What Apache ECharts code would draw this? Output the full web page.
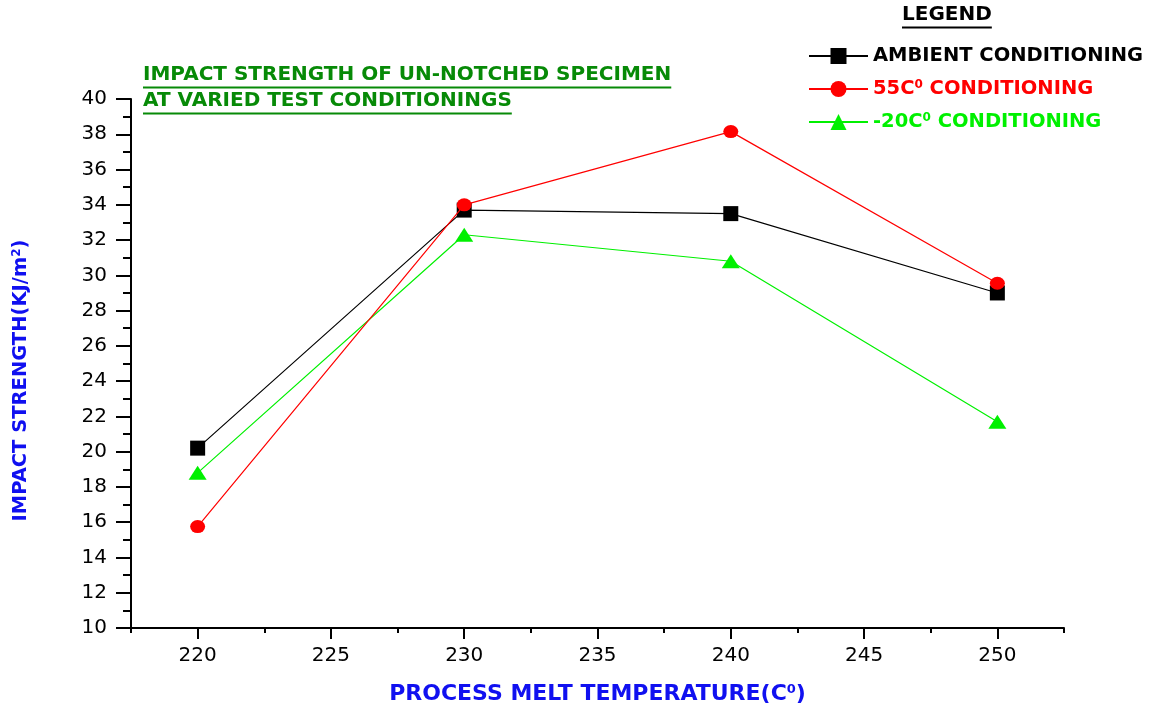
<!DOCTYPE html>
<html>
<head>
<meta charset="utf-8">
<script src="https://cdn.jsdelivr.net/npm/echarts@6/dist/echarts.min.js"></script>
<style>
  html, body { margin: 0; padding: 0; background: #fff; }
  #chart { width: 1151px; height: 713px; }
</style>
</head>
<body>
<div id="chart"></div>
<script>
// data
const temps = [220, 230, 240, 250];
const ambient = [20.2, 33.7, 33.5, 29.0];
const warm55 = [15.75, 34.0, 38.15, 29.55];
const cold20 = [18.8, 32.3, 30.8, 21.7];

const xTicks = [220, 225, 230, 235, 240, 245, 250];
const xMinorTicks = [217.5, 222.5, 227.5, 232.5, 237.5, 242.5, 247.5, 252.5];
const yTicks = [10, 12, 14, 16, 18, 20, 22, 24, 26, 28, 30, 32, 34, 36, 38, 40];

const FONT = "DejaVu Sans";
const GREEN = "#078a07";
const BLUE = "#1010f0";
const LIME = "#00f000";

const pairs = (ys) => temps.map((t, i) => [t, ys[i]]);

// measure text so the underlines fit the words
const measureCtx = document.createElement("canvas").getContext("2d");
function textWidth(str, size) {
  measureCtx.font = "bold " + size + "px " + FONT;
  return measureCtx.measureText(str).width;
}

function underlined(str, x, y, size, color) {
  const w = textWidth(str, size);
  return [
    {
      type: "text",
      x: x,
      y: y,
      style: { text: str, fill: color, font: "bold " + size + "px " + FONT, textVerticalAlign: "middle" },
    },
    {
      type: "line",
      shape: { x1: x, y1: y + size * 0.62, x2: x + w, y2: y + size * 0.62 },
      style: { stroke: color, lineWidth: 2 },
    },
  ];
}

const titleLine1 = "IMPACT STRENGTH OF UN-NOTCHED SPECIMEN";
const titleLine2 = "AT VARIED TEST CONDITIONINGS";

const chart = echarts.init(document.getElementById("chart"));

const option = {
  backgroundColor: "#fff",
  animation: false,
  grid: { left: 131, right: 87, top: 99, bottom: 85 },
  graphic: [
    ...underlined(titleLine1, 143, 75, 20, GREEN),
    ...underlined(titleLine2, 143, 101, 20, GREEN),
    ...underlined("LEGEND", 902, 15, 20, "#000"),
  ],
  legend: {
    orient: "vertical",
    left: 803,
    top: 41,
    itemWidth: 59,
    itemHeight: 20,
    itemGap: 13,
    data: ["AMBIENT CONDITIONING", "55C0 CONDITIONING", "-20C0 CONDITIONING"],
    formatter: function (name) {
      if (name === "AMBIENT CONDITIONING") return "{k|" + name + "}";
      if (name === "55C0 CONDITIONING") return "{r|55C}{rs|0}{r| CONDITIONING}";
      return "{g|-20C}{gs|0}{g| CONDITIONING}";
    },
    textStyle: {
      rich: {
        k: { color: "#000", fontSize: 19.5, fontWeight: "bold", fontFamily: FONT },
        r: { color: "#ff0000", fontSize: 19.5, fontWeight: "bold", fontFamily: FONT },
        rs: { color: "#ff0000", fontSize: 12, fontWeight: "bold", fontFamily: FONT, verticalAlign: "top" },
        g: { color: LIME, fontSize: 19.5, fontWeight: "bold", fontFamily: FONT },
        gs: { color: LIME, fontSize: 12, fontWeight: "bold", fontFamily: FONT, verticalAlign: "top" },
      },
    },
  },
  xAxis: [
    {
      type: "value",
      min: 217.5,
      max: 252.5,
      position: "bottom",
      name: "{n|PROCESS MELT TEMPERATURE(C}{s|0}{n|)}",
      nameLocation: "middle",
      nameGap: 55,
      nameTextStyle: {
        rich: {
          n: { color: BLUE, fontSize: 22, fontWeight: "bold", fontFamily: FONT },
          s: { color: BLUE, fontSize: 13, fontWeight: "bold", fontFamily: FONT, verticalAlign: "top" },
        },
      },
      axisLine: { lineStyle: { color: "#000", width: 2 } },
      axisTick: { customValues: xTicks, length: 11, lineStyle: { color: "#000", width: 2 } },
      axisLabel: {
        customValues: xTicks,
        margin: 18,
        color: "#000",
        fontSize: 20,
        fontFamily: FONT,
      },
      splitLine: { show: false },
    },
    {
      type: "value",
      min: 217.5,
      max: 252.5,
      position: "bottom",
      axisLine: { show: false },
      axisTick: { customValues: xMinorTicks, length: 5, lineStyle: { color: "#000", width: 2 } },
      axisLabel: { show: false },
      splitLine: { show: false },
    },
  ],
  yAxis: {
    type: "value",
    min: yTicks[0],
    max: yTicks[yTicks.length - 1],
    interval: yTicks[1] - yTicks[0],
    name: "{n|IMPACT STRENGTH(KJ/m}{s|2}{n|)}",
    nameLocation: "middle",
    nameRotate: 90,
    nameGap: 100,
    nameTextStyle: {
      padding: [0, 34, 0, 0],
      rich: {
        n: { color: BLUE, fontSize: 19.5, fontWeight: "bold", fontFamily: FONT },
        s: { color: BLUE, fontSize: 12, fontWeight: "bold", fontFamily: FONT, verticalAlign: "top" },
      },
    },
    axisLine: { show: true, lineStyle: { color: "#000", width: 2 } },
    axisTick: { show: true, length: 15, lineStyle: { color: "#000", width: 2 } },
    minorTick: { show: true, splitNumber: 2, length: 8, lineStyle: { color: "#000", width: 2 } },
    axisLabel: { margin: 24, color: "#000", fontSize: 20, fontFamily: FONT },
    splitLine: { show: false },
    minorSplitLine: { show: false },
  },
  series: [
    {
      name: "AMBIENT CONDITIONING",
      type: "line",
      data: pairs(ambient),
      symbol: "rect",
      symbolSize: 15,
      color: "#000",
      lineStyle: { width: 1.2, color: "#000" },
      itemStyle: { color: "#000" },
      z: 3,
    },
    {
      name: "55C0 CONDITIONING",
      type: "line",
      data: pairs(warm55),
      symbol: "circle",
      symbolSize: [15, 13],
      color: "#ff0000",
      lineStyle: { width: 1.2, color: "#ff0000" },
      itemStyle: { color: "#ff0000" },
      z: 4,
    },
    {
      name: "-20C0 CONDITIONING",
      type: "line",
      data: pairs(cold20),
      symbol: "triangle",
      symbolSize: [18, 14],
      color: LIME,
      lineStyle: { width: 1.2, color: LIME },
      itemStyle: { color: LIME },
      z: 2,
    },
  ],
};

chart.setOption(option);
</script>
</body>
</html>
